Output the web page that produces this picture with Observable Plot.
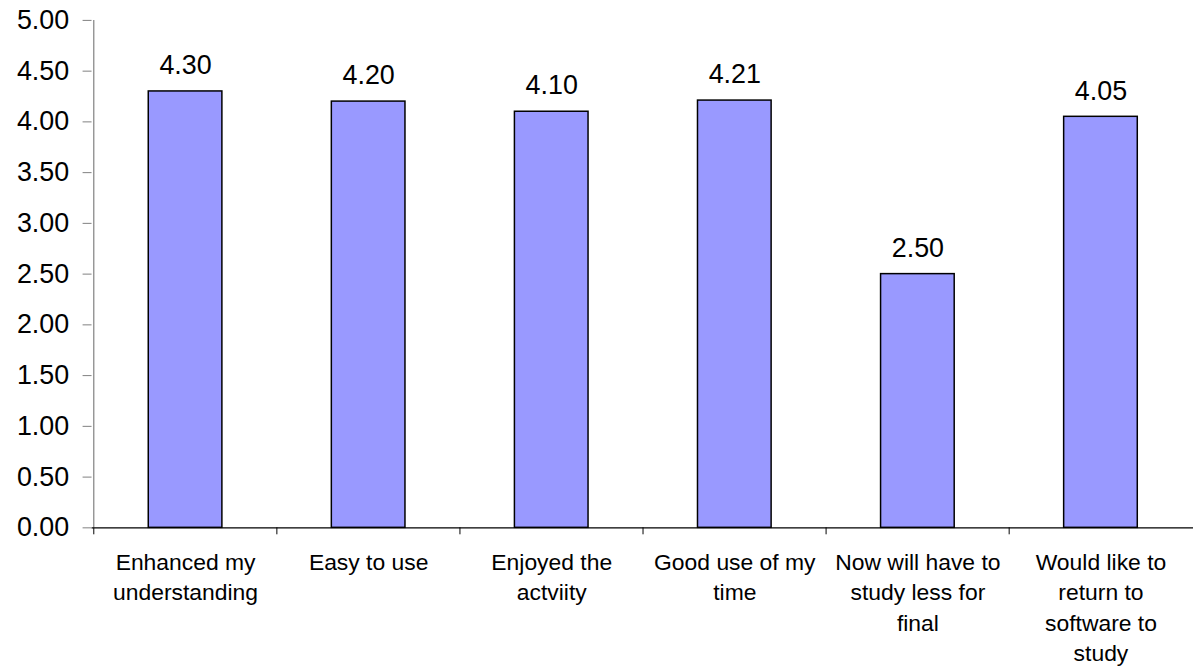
<!DOCTYPE html>
<html>
<head>
<meta charset="utf-8">
<script src="https://cdn.jsdelivr.net/npm/d3@7"></script>
<script src="https://cdn.jsdelivr.net/npm/@observablehq/plot@0.6"></script>
<style>
  html, body { margin: 0; padding: 0; background: #fff; overflow: hidden; }
  svg { font-family: "Liberation Sans", Arial, sans-serif; }
</style>
</head>
<body>
<div id="chart"></div>
<script>
const categories = [
  "Enhanced my\nunderstanding",
  "Easy to use",
  "Enjoyed the\nactviity",
  "Good use of my\ntime",
  "Now will have to\nstudy less for\nfinal",
  "Would like to\nreturn to\nsoftware to\nstudy"
];
const values = [4.30, 4.20, 4.10, 4.21, 2.50, 4.05];
const yTicks = [0, 0.5, 1, 1.5, 2, 2.5, 3, 3.5, 4, 4.5, 5];

const data = categories.map((c, i) => ({category: c, value: values[i]}));

const W = 1199, marginLeft = 92, marginRight = 0;
const step = (W - marginLeft - marginRight) / categories.length;

const plot = Plot.plot({
  width: W,
  height: 670,
  marginTop: 20,
  marginBottom: 140,
  marginLeft,
  marginRight,
  style: {fontFamily: '"Liberation Sans", Arial, sans-serif', color: "#000", background: "#fff"},
  x: {type: "band", domain: categories, paddingInner: 0.6, paddingOuter: 0.3, axis: null},
  y: {type: "linear", domain: [0, 5], axis: null},
  marks: [
    Plot.barY(data, {x: "category", y: "value", fill: "#9999ff", stroke: "#000", strokeWidth: 1.5}),
    Plot.ruleY([0], {stroke: "#000", strokeWidth: 1.2}),
    Plot.ruleX([categories[0]], {y1: 0, y2: 5, dx: -step / 2, stroke: "#808080", strokeWidth: 1.2}),
    Plot.axisY(yTicks, {tickFormat: d => d.toFixed(2), tickSize: 9, tickPadding: 14, fontSize: 27, stroke: "#808080", color: "#000", label: null}),
    Plot.axisX({anchor: "bottom", tickSize: 7, tickFormat: () => "", dx: -step / 2, stroke: "#000", label: null}),
    Plot.text(data, {x: "category", y: "value", text: d => d.value.toFixed(2), dy: -26, fontSize: 27, fill: "#000"}),
    Plot.text(categories, {x: d => d, frameAnchor: "bottom", lineAnchor: "top", dy: 21, fontSize: 23, lineHeight: 1.32, fill: "#000"})
  ]
});
document.getElementById("chart").appendChild(plot);
</script>
</body>
</html>
